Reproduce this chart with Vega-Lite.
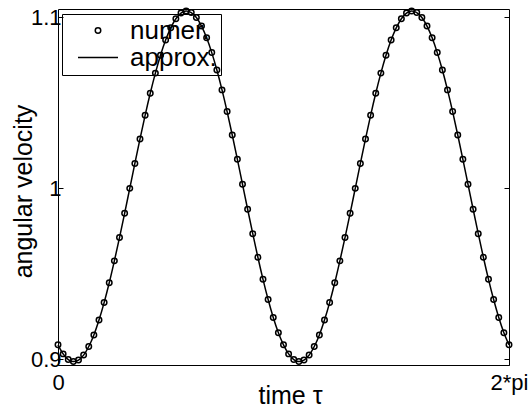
{
  "$schema": "https://vega.github.io/schema/vega-lite/v6.json",
  "width": 451,
  "height": 356,
  "autosize": "none",
  "padding": {"left": 58, "top": 9, "right": 22, "bottom": 42},
  "background": "white",
  "config": {
    "font": "Liberation Sans",
    "view": {"stroke": "black", "strokeWidth": 1},
    "axis": {
      "grid": false,
      "domain": false,
      "tickColor": "black",
      "tickWidth": 1,
      "tickSize": -5,
      "labelColor": "black",
      "titleColor": "black",
      "labelFontSize": 22,
      "titleFontSize": 25,
      "titleFontWeight": "normal",
      "labelFlush": false
    },
    "legend": {
      "orient": "none", "legendX": 4, "legendY": 5,
      "title": null,
      "strokeColor": "black",
      "padding": 4,
      "labelFontSize": 26,
      "labelColor": "black",
      "symbolStrokeColor": "black",
      "symbolStrokeWidth": 1.5,
      "symbolFillColor": "transparent",
      "symbolOpacity": 1,
      "clipHeight": 25,
      "rowPadding": 0
    }
  },
  "data": {
    "values": [
      {"t": 0, "v": 0.9083}, {"t": 0.0714, "v": 0.9030}, {"t": 0.1428, "v": 0.8997}, {"t": 0.2142, "v": 0.8985},
      {"t": 0.2856, "v": 0.8994}, {"t": 0.3570, "v": 0.9023}, {"t": 0.4284, "v": 0.9073}, {"t": 0.4998, "v": 0.9141},
      {"t": 0.5712, "v": 0.9228}, {"t": 0.6426, "v": 0.9330}, {"t": 0.7140, "v": 0.9446}, {"t": 0.7854, "v": 0.9574},
      {"t": 0.8568, "v": 0.9710}, {"t": 0.9282, "v": 0.9852}, {"t": 0.9996, "v": 0.9998}, {"t": 1.0710, "v": 1.0144},
      {"t": 1.1424, "v": 1.0287}, {"t": 1.2138, "v": 1.0425}, {"t": 1.2852, "v": 1.0554}, {"t": 1.3566, "v": 1.0672},
      {"t": 1.4280, "v": 1.0777}, {"t": 1.4994, "v": 1.0866}, {"t": 1.5708, "v": 1.0937}, {"t": 1.6422, "v": 1.0990},
      {"t": 1.7136, "v": 1.1023}, {"t": 1.7850, "v": 1.1035}, {"t": 1.8564, "v": 1.1026}, {"t": 1.9278, "v": 1.0997},
      {"t": 1.9992, "v": 1.0947}, {"t": 2.0706, "v": 1.0879}, {"t": 2.1420, "v": 1.0792}, {"t": 2.2134, "v": 1.0690},
      {"t": 2.2848, "v": 1.0574}, {"t": 2.3562, "v": 1.0447}, {"t": 2.4276, "v": 1.0310}, {"t": 2.4990, "v": 1.0168},
      {"t": 2.5704, "v": 1.0022}, {"t": 2.6418, "v": 0.9876}, {"t": 2.7132, "v": 0.9733}, {"t": 2.7846, "v": 0.9595},
      {"t": 2.8560, "v": 0.9466}, {"t": 2.9274, "v": 0.9348}, {"t": 2.9988, "v": 0.9243}, {"t": 3.0702, "v": 0.9154},
      {"t": 3.1416, "v": 0.9083}, {"t": 3.2130, "v": 0.9030}, {"t": 3.2844, "v": 0.8997}, {"t": 3.3558, "v": 0.8985},
      {"t": 3.4272, "v": 0.8994}, {"t": 3.4986, "v": 0.9023}, {"t": 3.5700, "v": 0.9073}, {"t": 3.6414, "v": 0.9141},
      {"t": 3.7128, "v": 0.9228}, {"t": 3.7842, "v": 0.9330}, {"t": 3.8556, "v": 0.9446}, {"t": 3.9270, "v": 0.9574},
      {"t": 3.9984, "v": 0.9710}, {"t": 4.0698, "v": 0.9852}, {"t": 4.1412, "v": 0.9998}, {"t": 4.2126, "v": 1.0144},
      {"t": 4.2840, "v": 1.0287}, {"t": 4.3554, "v": 1.0425}, {"t": 4.4268, "v": 1.0554}, {"t": 4.4982, "v": 1.0672},
      {"t": 4.5696, "v": 1.0777}, {"t": 4.6410, "v": 1.0866}, {"t": 4.7124, "v": 1.0937}, {"t": 4.7838, "v": 1.0990},
      {"t": 4.8552, "v": 1.1023}, {"t": 4.9266, "v": 1.1035}, {"t": 4.9980, "v": 1.1026}, {"t": 5.0694, "v": 1.0997},
      {"t": 5.1408, "v": 1.0947}, {"t": 5.2122, "v": 1.0879}, {"t": 5.2836, "v": 1.0792}, {"t": 5.3550, "v": 1.0690},
      {"t": 5.4264, "v": 1.0574}, {"t": 5.4978, "v": 1.0447}, {"t": 5.5692, "v": 1.0310}, {"t": 5.6406, "v": 1.0168},
      {"t": 5.7120, "v": 1.0022}, {"t": 5.7834, "v": 0.9876}, {"t": 5.8548, "v": 0.9733}, {"t": 5.9262, "v": 0.9595},
      {"t": 5.9976, "v": 0.9466}, {"t": 6.0690, "v": 0.9348}, {"t": 6.1404, "v": 0.9243}, {"t": 6.2118, "v": 0.9154},
      {"t": 6.2832, "v": 0.9083}
    ]
  },
  "layer": [
    {
      "mark": {"type": "line", "color": "black", "strokeWidth": 1.5, "interpolate": "monotone"},
      "encoding": {
        "x": {
          "field": "t", "type": "quantitative",
          "scale": {"domain": [0, 6.2832], "nice": false, "zero": false},
          "axis": {"values": [0, 6.2832], "labelExpr": "datum.value < 1 ? '0' : '2*pi'", "title": "time τ", "labelPadding": 12, "titleX": 232, "titleY": 38, "titleBaseline": "alphabetic"}
        },
        "y": {
          "field": "v", "type": "quantitative",
          "scale": {"domain": [0.8965, 1.1047], "nice": false, "zero": false},
          "axis": {"values": [0.9, 1, 1.1], "format": "~g", "title": "angular velocity", "labelPadding": 2, "titleX": -35, "titleY": 182, "titleBaseline": "middle"}
        }
      }
    },
    {
      "mark": {"type": "point", "shape": "circle", "filled": false, "color": "black", "strokeWidth": 1.5, "opacity": 1},
      "encoding": {
        "x": {"field": "t", "type": "quantitative"},
        "y": {
          "field": "v", "type": "quantitative",
          "axis": {"orient": "right", "values": [0.9, 1, 1.1], "labels": false, "title": null}
        },
        "shape": {
          "datum": "numer.",
          "scale": {"domain": ["numer.", "approx."], "range": ["circle", "stroke"]},
          "legend": {"symbolOffset": 11, "labelOffset": 11}
        },
        "size": {
          "datum": "numer.",
          "scale": {"type": "ordinal", "domain": ["numer.", "approx."], "range": [30, 1600]},
          "legend": {"symbolOffset": 11, "labelOffset": 11}
        }
      }
    }
  ],
  "resolve": {"axis": {"y": "independent"}}
}
